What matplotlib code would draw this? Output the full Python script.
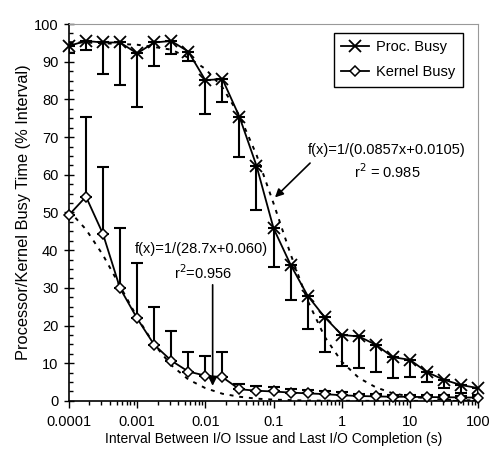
import matplotlib
matplotlib.use('Agg')
import matplotlib.pyplot as plt
import matplotlib.ticker as ticker
import numpy as np

plt.rcParams['font.family'] = ['Liberation Sans', 'DejaVu Sans']
plt.rcParams['font.size'] = 10.5

# intervals (s), quarter-decade steps from 1e-4 to 100
x = [0.0001, 0.000178, 0.000316, 0.000562, 0.001, 0.00178, 0.00316, 0.00562,
     0.01, 0.0178, 0.0316, 0.0562, 0.1, 0.178, 0.316, 0.562,
     1, 1.78, 3.16, 5.62, 10, 17.8, 31.6, 56.2, 100]

proc = [94.2, 95.5, 95.1, 95.1, 92.2, 95.1, 95.5, 92.7, 85.1, 85.4, 75.4, 62.4,
        45.8, 36.1, 27.9, 22.2, 17.5, 17.1, 14.9, 11.6, 10.9, 7.6, 5.6, 4.2, 3.4]
proc_low = [92.2, 93.0, 86.7, 83.8, 77.9, 88.9, 92.0, 90.3, 76.0, 79.2, 64.8, 50.7,
            35.5, 26.7, 19.1, 13.0, 9.2, 8.7, 7.8, 6.0, 6.3, 4.9, 3.4, 2.2, 1.6]
proc_fit = [95.2, 95.1, 94.9, 94.7, 94.5, 93.9, 93.2, 91.1, 88.1, 83.2, 75.7, 65.3,
            52.4, 38.9, 26.6, 17.0, 10.4, 6.1, 3.6, 2.0, 1.2, 0.65, 0.37, 0.21, 0.12]

kernel = [49.3, 54.2, 44.3, 29.9, 21.9, 14.9, 10.7, 7.8, 6.7, 6.3, 3.1, 2.7,
          2.5, 2.2, 2.0, 1.8, 1.5, 1.3, 1.2, 1.1, 1.1, 1.0, 1.0, 0.9, 0.9]
kernel_high = [49.3, 75.4, 62.0, 45.8, 36.7, 24.9, 18.6, 12.9, 11.9, 13.1, 4.6, 3.9,
               3.7, 3.2, 3.0, 2.6, 2.3, 1.9, 1.8, 1.6, 1.6, 1.5, 1.5, 1.4, 1.4]
kernel_fit = [50.5, 45.5, 38.7, 30.5, 22.2, 15.0, 9.5, 5.7, 3.4, 1.9, 1.1, 0.6,
              0.35, 0.2, 0.1, 0.06, 0.03, 0.02, 0.01, 0.0, 0.0, 0.0, 0.0, 0.0, 0.0]

xticks = [0.0001, 0.001, 0.01, 0.1, 1, 10, 100]
xticklabels = ['0.0001', '0.001', '0.01', '0.1', '1', '10', '100']

proc = np.array(proc)
kernel = np.array(kernel)
perr = [proc - np.array(proc_low), np.zeros(len(proc))]
kerr = [np.zeros(len(kernel)), np.array(kernel_high) - kernel]

fig = plt.figure(figsize=(4.92, 4.53), dpi=100)
ax = fig.add_axes([0.140, 0.115, 0.832, 0.832])

ax.errorbar(x, proc, yerr=perr, fmt='none', ecolor='black', elinewidth=1.5,
            capsize=4, capthick=1.5, zorder=2)
ax.errorbar(x, kernel, yerr=kerr, fmt='none', ecolor='black', elinewidth=1.5,
            capsize=4, capthick=1.5, zorder=2)
ax.plot(x, proc_fit, color='black', lw=1.4, ls=(0, (2, 3)), zorder=2)
ax.plot(x, kernel_fit, color='black', lw=1.4, ls=(0, (2, 3)), zorder=2)
ax.plot(x, proc, color='black', lw=1.3, marker='x', ms=8, mew=1.3,
        label='Proc. Busy', clip_on=False, zorder=3)
ax.plot(x, kernel, color='black', lw=1.3, marker='D', ms=5, mew=1.1, mfc='white',
        label='Kernel Busy', clip_on=False, zorder=3)

ax.set_xscale('log')
ax.set_xlim(0.0001, 100)
ax.set_ylim(0, 100)
ax.xaxis.set_major_locator(ticker.FixedLocator(xticks))
ax.xaxis.set_major_formatter(ticker.FixedFormatter(xticklabels))
minors = [d * m for d in xticks[:-1] for m in range(2, 10)]
ax.xaxis.set_minor_locator(ticker.FixedLocator(minors))
ax.xaxis.set_minor_formatter(ticker.NullFormatter())
ax.yaxis.set_major_locator(ticker.MultipleLocator(10))
ax.yaxis.set_minor_locator(ticker.MultipleLocator(2.5))
ax.tick_params(axis='x', which='major', direction='out', length=5, width=1, pad=5)
ax.tick_params(axis='x', which='minor', direction='out', length=3, width=1)
ax.tick_params(axis='y', which='major', direction='inout', length=7, width=1, pad=4)
ax.tick_params(axis='y', which='minor', direction='in', length=3, width=1)

for s in ['top', 'right']:
    ax.spines[s].set_color('#999999')
for s in ['left', 'bottom']:
    ax.spines[s].set_linewidth(1.2)

ax.set_xlabel('Interval Between I/O Issue and Last I/O Completion (s)',
              fontsize=10, labelpad=2)
ax.set_ylabel('Processor/Kernel Busy Time (% Interval)', fontsize=11.8, labelpad=2)

leg = ax.legend(loc='upper right', bbox_to_anchor=(0.98, 0.995), fancybox=False,
                edgecolor='black', framealpha=1, handlelength=1.9,
                borderpad=0.5, labelspacing=0.75, handletextpad=0.5)
leg.get_frame().set_linewidth(1.0)

ax.annotate('', xy=(0.105, 54), xytext=(0.343, 63.1),
            arrowprops=dict(arrowstyle='-|>', color='black', lw=1.2,
                            mutation_scale=12, shrinkA=0, shrinkB=0))
ax.text(4.57, 66.6, 'f(x)=1/(0.0857x+0.0105)', ha='center', va='center')
ax.text(4.7, 60.7, 'r$^2$ = 0.985', ha='center', va='center')

ax.annotate('', xy=(0.0128, 4.0), xytext=(0.0128, 30.8),
            arrowprops=dict(arrowstyle='-|>', color='black', lw=1.2,
                            mutation_scale=12, shrinkA=0, shrinkB=0))
ax.text(0.00885, 40.2, 'f(x)=1/(28.7x+0.060)', ha='center', va='center')
ax.text(0.00925, 34.0, 'r$^2$=0.956', ha='center', va='center')

fig.savefig('out.png', dpi=100)
